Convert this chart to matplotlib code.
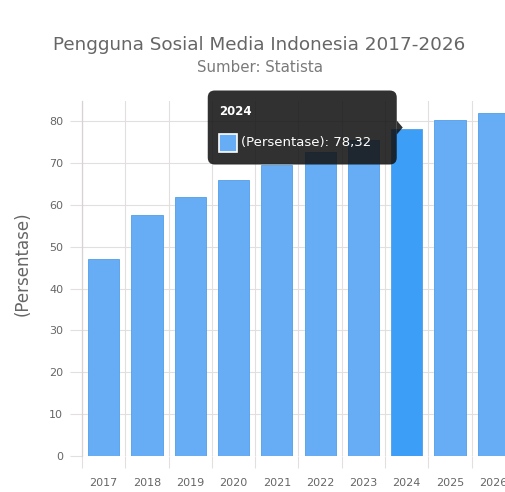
import matplotlib
matplotlib.use("Agg")
import matplotlib.pyplot as plt
from matplotlib.patches import FancyBboxPatch, Polygon, Rectangle
from matplotlib.transforms import IdentityTransform

# Data
years = ["2017", "2018", "2019", "2020", "2021", "2022", "2023", "2024", "2025", "2026"]
persentase = [47.1, 57.7, 61.9, 66.0, 69.6, 72.7, 75.6, 78.32, 80.4, 82.0]
y_ticks = [0, 10, 20, 30, 40, 50, 60, 70, 80]
active_index = 7

TITLE = "Pengguna Sosial Media Indonesia 2017-2026"
SUBTITLE = "Sumber: Statista"
Y_LABEL = "(Persentase)"
SERIES = "(Persentase)"

BAR = "#66adf5"
BAR_EDGE = "#4f9fe8"
BAR_ACTIVE = "#3c9ef6"
GRID = "#e4dfdf"
TEXT = "#666666"

W, H = 506, 492
fig = plt.figure(figsize=(W / 100, H / 100), dpi=100)
fig.patch.set_facecolor("white")

# plot area (pixels): left 82, bottom 455.7, top 100.6, category width ~43.3
left_px, right_px = 82, 515
bottom_px, top_px = 455.7, 100.6
ax = fig.add_axes([left_px / W, (H - bottom_px) / H,
                   (right_px - left_px) / W, (bottom_px - top_px) / H])
ax.set_facecolor("white")

x = list(range(len(years)))
colors = [BAR_ACTIVE if i == active_index else BAR for i in x]
ax.bar(x, persentase, width=0.72, color=colors, edgecolor=BAR_EDGE,
       linewidth=0.6, zorder=3)

ax.set_xlim(-0.5, len(years) - 0.5)
ax.set_ylim(0, 85)

ax.set_yticks(y_ticks)
ax.set_yticklabels([str(v) for v in y_ticks])
ax.set_xticks(x)
ax.set_xticklabels(years)
ax.set_xticks([i - 0.5 for i in range(len(years) + 1)], minor=True)

ax.tick_params(axis="y", which="major", length=8.6, width=0.8, color=GRID,
               labelcolor=TEXT, labelsize=8, pad=5)
ax.tick_params(axis="x", which="major", length=0, labelcolor=TEXT,
               labelsize=8, pad=16)
ax.tick_params(axis="x", which="minor", length=8.6, width=0.8, color=GRID)

ax.grid(True, axis="y", which="major", color=GRID, linewidth=0.8, zorder=0)
ax.grid(True, axis="x", which="minor", color=GRID, linewidth=0.8, zorder=0)
for side in ("top", "right", "bottom"):
    ax.spines[side].set_visible(False)
ax.spines["left"].set_color("#d9d2d2")
ax.spines["left"].set_linewidth(0.9)

fig.text(23 / W, 1 - 264 / H, Y_LABEL, rotation=90, ha="center", va="center",
         color=TEXT, fontsize=12)
fig.text(259 / W, 1 - 45 / H, TITLE, ha="center", va="center",
         color=TEXT, fontsize=13.2)
fig.text(260 / W, 1 - 67 / H, SUBTITLE, ha="center", va="center",
         color="#7a7a7a", fontsize=10.8)

# Hover tooltip for the active bar
fig.canvas.draw()
tx, ty = ax.transData.transform((active_index, persentase[active_index]))
tip_x, tip_y = tx - 4, ty + 1
box_r = tip_x - 6
box_w, box_h = 189, 74
box_l = box_r - box_w
box_b = tip_y - box_h / 2
ident = IdentityTransform()
tip_color = (0.08, 0.08, 0.08, 0.88)
fig.patches.append(FancyBboxPatch((box_l, box_b), box_w, box_h,
                                  boxstyle="round,pad=0,rounding_size=7",
                                  transform=ident, facecolor=tip_color,
                                  edgecolor="none", zorder=10))
fig.patches.append(Polygon([(box_r, tip_y + 7), (tip_x, tip_y), (box_r, tip_y - 7)],
                           closed=True, transform=ident, facecolor=tip_color,
                           edgecolor="none", zorder=10))
fig.text(box_l + 11, box_b + box_h - 21, years[active_index], transform=ident,
         color="white", fontsize=8.5, fontweight="bold", ha="left", va="center",
         zorder=11)
sw_l, sw_b = box_l + 11, box_b + 13
fig.patches.append(Rectangle((sw_l, sw_b), 18, 18, transform=ident,
                             facecolor=BAR, edgecolor="white", linewidth=1.2,
                             zorder=11))
value_txt = f"{persentase[active_index]:.2f}".replace(".", ",")
fig.text(sw_l + 22, sw_b + 9, f"{SERIES}: {value_txt}", transform=ident,
         color="white", fontsize=9.5, ha="left", va="center",
         zorder=11)

fig.savefig("out.png", dpi=100, facecolor="white")
